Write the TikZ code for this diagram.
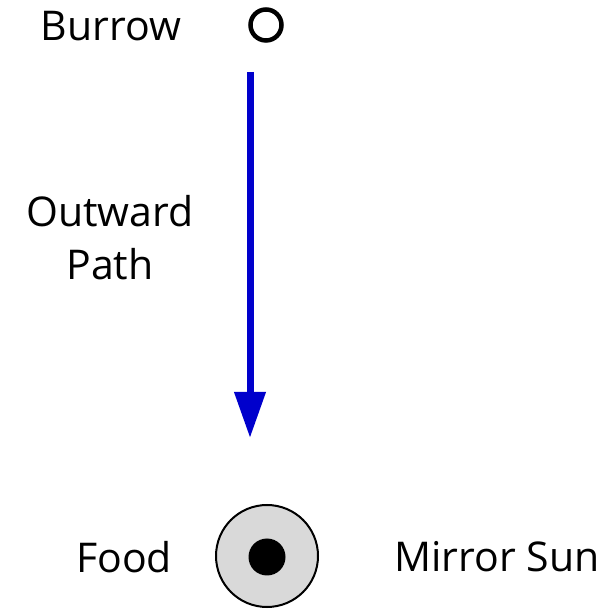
\documentclass[tikz,border=0pt]{standalone}
\usepackage{fontspec}
\setmainfont{Open Sans}
\usetikzlibrary{arrows.meta}
\definecolor{arrowblue}{RGB}{0,0,204}
\definecolor{sungray}{RGB}{217,217,217}
\begin{document}
\begin{tikzpicture}[x=1bp,y=1bp,
  lbl/.style={font=\fontsize{41bp}{53bp}\selectfont, inner sep=0pt, align=center},
  burrowring/.style={circle, draw=black, line width=4.5bp, minimum size=31bp, inner sep=0pt},
  sundisk/.style={circle, draw=black, line width=2bp, fill=sungray, minimum size=102bp, inner sep=0pt},
  fooddot/.style={circle, fill=black, minimum size=37bp, inner sep=0pt},
  pathline/.style={draw=arrowblue, line width=7bp, -{Triangle[length=46bp,width=30bp]}, arrowblue}
]
\useasboundingbox (0,0) rectangle (615,611);
\node[lbl] (burrowtxt) at (111,585) {Burrow};
\node[burrowring] (burrow) at (266,586) {};
\coordinate (start) at (250,539);
\coordinate (tip) at (250,173);
\draw[pathline] (start) -- (tip);
\node[lbl] (outward) at (110,373) {Outward\\Path};
\node[sundisk] (sun) at (267,55) {};
\node[fooddot] (food) at (267,54) {};
\node[lbl] (foodtxt) at (124,54) {Food};
\node[lbl] (mirror) at (497,54) {Mirror Sun};
\end{tikzpicture}
\end{document}
